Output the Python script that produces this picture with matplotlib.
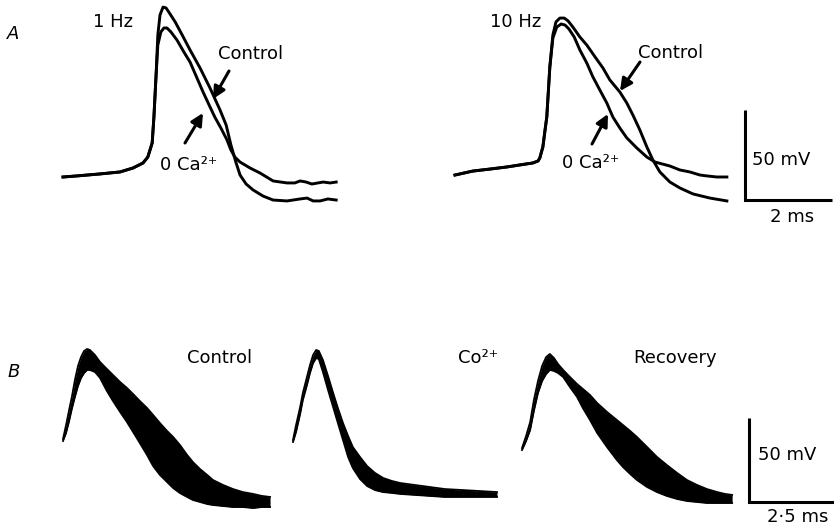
import matplotlib.pyplot as plt

W, H = 834, 527

# ---- panel A: single sweeps (time in ms, membrane potential in mV) ----
a1_ctrl_t = [0, 0.32, 0.85, 1.31, 1.61, 1.84, 1.95, 2.05, 2.09, 2.14,
             2.18, 2.23, 2.30, 2.37, 2.46, 2.58, 2.74, 2.92, 3.15, 3.38,
             3.61, 3.75, 3.86, 3.98, 4.07, 4.21, 4.37, 4.60, 4.83, 5.15,
             5.45, 5.61, 5.75, 5.91, 6.09, 6.28]
a1_ctrl_v = [-70, -69.4, -68.3, -67.2, -65, -62.2, -58.9, -51.1, -36.7, -13.3,
             8.9, 20, 24.4, 23.9, 20.6, 16.1, 8.9, 0.6, -9.4, -20.6,
             -32.8, -41.1, -52.2, -62.2, -68.9, -73.9, -77.2, -80.6, -82.8, -83.3,
             -82.2, -81.7, -83.3, -83.3, -82.2, -82.8]
a1_zca_t = [0, 0.32, 0.85, 1.31, 1.61, 1.84, 1.95, 2.05, 2.09, 2.14,
            2.18, 2.25, 2.32, 2.39, 2.48, 2.62, 2.78, 2.92, 3.08, 3.22,
            3.38, 3.49, 3.63, 3.77, 3.86, 3.95, 4.07, 4.30, 4.53, 4.83,
            5.15, 5.33, 5.45, 5.59, 5.72, 5.86, 5.98, 6.14, 6.28]
a1_zca_v = [-70, -69.4, -68.3, -67.2, -65, -62.2, -58.9, -51.1, -36.7, -13.3,
            3.3, 10.6, 12.8, 12.8, 10.6, 6.1, -0.6, -6.1, -15, -22.8,
            -31.1, -36.7, -42.8, -49.4, -55, -58.9, -61.7, -65, -67.8, -72.2,
            -73.3, -73.3, -72.2, -72.8, -73.9, -73.3, -72.8, -73.3, -72.8]

a2_ctrl_t = [0, 0.41, 0.80, 1.20, 1.49, 1.79, 1.91, 1.95, 2.02, 2.07,
             2.11, 2.18, 2.25, 2.32, 2.41, 2.51, 2.60, 2.71, 2.87, 3.03,
             3.22, 3.40, 3.56, 3.79, 3.95, 4.09, 4.25, 4.41, 4.55, 4.71,
             4.94, 5.17, 5.47, 5.86, 6.25]
a2_ctrl_v = [-68.9, -66.7, -65.6, -64.4, -63.3, -62.2, -61.1, -59.4, -53.3, -43.9,
             -36.7, -8.9, 8.9, 16.1, 18.3, 18.3, 16.7, 13.3, 7.8, 3.3,
             -3.3, -9.4, -16.1, -22.8, -28.9, -35.6, -43.9, -53.3, -60.6, -67.2,
             -72.8, -76.1, -79.4, -81.7, -83.3]
a2_zca_t = [0, 0.41, 0.80, 1.20, 1.49, 1.79, 1.91, 1.95, 2.02, 2.07,
            2.11, 2.18, 2.25, 2.34, 2.44, 2.53, 2.62, 2.74, 2.87, 3.03,
            3.17, 3.33, 3.49, 3.63, 3.79, 3.95, 4.18, 4.41, 4.60, 4.94,
            5.17, 5.40, 5.63, 5.79, 6.02, 6.25]
a2_zca_v = [-68.9, -66.7, -65.6, -64.4, -63.3, -62.2, -61.1, -59.4, -53.3, -43.9,
            -36.7, -8.9, 7.2, 13.3, 15, 14.4, 12.2, 7.8, 0.6, -6.7,
            -14.4, -21.7, -28.9, -36.7, -42.8, -48.3, -53.9, -58.9, -61.7, -63.9,
            -66.1, -67.2, -68.9, -69.4, -70, -70]

# ---- panel B: superimposed sweeps, slowest and fastest edge of each bundle ----
b_ctrl_t = [0, 0.09, 0.18, 0.26, 0.35, 0.44, 0.53, 0.62, 0.71, 0.79,
            0.94, 1.09, 1.29, 1.47, 1.68, 1.88, 2.06, 2.26, 2.47, 2.65,
            2.85, 3.06, 3.24, 3.44, 3.65, 3.82, 4.03, 4.24, 4.41, 4.71,
            5.0, 5.29, 5.59, 5.85, 6.09]
b_ctrl_slow = [-39.4, -31.1, -22.1, -14.4, -4.3, 4.0, 9.4, 13.0, 14.2, 13.6,
               10.6, 6.4, 2.3, -1.3, -5.5, -9.0, -12.6, -16.8, -20.9, -25.1,
               -29.9, -34.6, -38.2, -43.0, -48.9, -53.1, -57.3, -60.8, -63.8, -66.8,
               -69.2, -71.0, -72.1, -73.3, -73.9]
b_ctrl_fast = [-40.6, -35.8, -28.7, -21.5, -14.4, -7.9, -3.1, -0.1, 1.7, 1.7,
               0.5, -3.1, -10.8, -16.8, -23.3, -29.3, -35.2, -41.8, -48.9, -55.5,
               -60.8, -65.0, -68.6, -71.6, -73.9, -75.7, -76.9, -78.1, -78.7, -79.3,
               -79.9, -79.9, -80.5, -79.9, -79.9]

b_co_t = [0, 0.09, 0.21, 0.29, 0.41, 0.50, 0.59, 0.68, 0.76, 0.88,
          1.03, 1.18, 1.32, 1.47, 1.62, 1.76, 1.97, 2.18, 2.41, 2.65,
          2.91, 3.15, 3.59, 4.03, 4.47, 5.0, 5.5, 6.0]
b_co_slow = [-40, -31.1, -20.4, -12.0, -2.5, 4.6, 10.6, 13.6, 13.0, 7.6,
             -1.9, -12.0, -21.0, -29.9, -37.6, -44.2, -50.1, -55.5, -59.6, -62.6,
             -64.4, -65.6, -66.8, -68.0, -69.2, -69.8, -70.4, -71.0]
b_co_fast = [-41.2, -35.2, -24.5, -16.2, -7.3, -0.1, 5.8, 8.8, 8.2, 0.5,
             -10.2, -20.4, -29.9, -40.0, -50.1, -56.7, -63.2, -67.4, -69.8, -71.0,
             -71.5, -72.1, -72.7, -73.3, -73.9, -73.9, -73.9, -73.9]

b_rec_t = [0, 0.12, 0.24, 0.35, 0.47, 0.59, 0.71, 0.82, 0.94, 1.06,
           1.21, 1.41, 1.62, 1.79, 2.0, 2.21, 2.5, 2.79, 2.97, 3.18,
           3.38, 3.68, 3.97, 4.26, 4.56, 4.85, 5.15, 5.44, 5.74, 5.97, 6.18]
b_rec_slow = [-44.8, -37.6, -29.3, -16.2, -4.9, 4.0, 9.4, 11.2, 8.8, 5.2,
              1.7, -2.5, -6.7, -9.6, -13.2, -18.0, -23.3, -28.1, -31.1, -34.6,
              -38.2, -44.2, -50.1, -54.9, -59.6, -63.8, -66.8, -69.2, -71.0, -72.1, -72.7]
b_rec_fast = [-46.0, -40.6, -34.0, -22.7, -12.0, -4.9, -0.7, 1.7, 1.1, -0.1,
              -2.5, -8.5, -14.4, -21.0, -28.1, -35.8, -44.2, -51.9, -56.1, -60.2,
              -63.8, -68.0, -71.0, -73.3, -75.1, -76.3, -76.9, -77.5, -77.5, -77.5, -77.5]

bar_mv = 50
bar_ms_a = 2
bar_ms_b = 2.5

fig = plt.figure(figsize=(W / 100, H / 100), dpi=100)


def trace_axes(left, top, xlim, ylim, px_ms, px_mv):
    # axes placed in pixels so that every panel keeps its own ms / mV scale
    w = (xlim[1] - xlim[0]) * px_ms
    h = (ylim[1] - ylim[0]) * px_mv
    ax = fig.add_axes([left / W, 1 - (top + h) / H, w / W, h / H])
    ax.set_xlim(xlim)
    ax.set_ylim(ylim)
    ax.axis('off')
    return ax


def scale_bar(ax, t0, v0, dt, dv):
    ax.plot([t0, t0, t0 + dt], [v0 + dv, v0, v0], color='k', lw=2.2,
            solid_joinstyle='miter', solid_capstyle='butt', clip_on=False)


lw_a = 2.1
axA1 = trace_axes(63 - 0.2 * 43.5, 0.6, (-0.2, 6.5), (-90, 28), 43.5, 1.8)
axA1.plot(a1_ctrl_t, a1_ctrl_v, color='k', lw=lw_a, solid_joinstyle='round')
axA1.plot(a1_zca_t, a1_zca_v, color='k', lw=lw_a, solid_joinstyle='round')

axA2 = trace_axes(455 - 0.2 * 43.5, 0.6, (-0.2, 8.75), (-90, 28), 43.5, 1.8)
axA2.plot(a2_ctrl_t, a2_ctrl_v, color='k', lw=lw_a, solid_joinstyle='round')
axA2.plot(a2_zca_t, a2_zca_v, color='k', lw=lw_a, solid_joinstyle='round')
scale_bar(axA2, 6.67, -82.8, bar_ms_a, bar_mv)

b_sets = [(63, b_ctrl_t, b_ctrl_slow, b_ctrl_fast, 6.4),
          (293, b_co_t, b_co_slow, b_co_fast, 6.4),
          (522, b_rec_t, b_rec_slow, b_rec_fast, 9.3)]
b_axes = []
for x0, t, slow, fast, xmax in b_sets:
    ax = trace_axes(x0 - 0.3 * 34, 339.2, (-0.3, xmax), (-85, 20), 34, 1.68)
    ax.fill_between(t, fast, slow, color='k', lw=0)
    ax.plot(t, slow, color='k', lw=1.3)
    ax.plot(t, fast, color='k', lw=1.3)
    b_axes.append(ax)
scale_bar(b_axes[2], 6.68, -76.9, bar_ms_b, bar_mv)

# labels and arrows, in pixel coordinates of the whole figure
ov = fig.add_axes([0, 0, 1, 1])
ov.set_xlim(0, W)
ov.set_ylim(H, 0)
ov.axis('off')
ov.patch.set_visible(False)

fs = 13
ov.text(7, 39, 'A', fontsize=fs, style='italic')
ov.text(8, 377, 'B', fontsize=fs, style='italic')

ov.text(93, 27, '1 Hz', fontsize=fs)
ov.text(218, 59, 'Control', fontsize=fs)
ov.text(160, 170, '0 Ca²⁺', fontsize=fs)
ov.text(490, 27, '10 Hz', fontsize=fs)
ov.text(638, 58, 'Control', fontsize=fs)
ov.text(562, 168, '0 Ca²⁺', fontsize=fs)
ov.text(752, 165, '50 mV', fontsize=fs)
ov.text(770, 222, '2 ms', fontsize=fs)

ov.text(187, 363, 'Control', fontsize=fs)
ov.text(458, 363, 'Co²⁺', fontsize=fs)
ov.text(633, 363, 'Recovery', fontsize=fs)
ov.text(758, 460, '50 mV', fontsize=fs)
ov.text(767, 522, '2·5 ms', fontsize=fs)

arrows = [((229, 71), (213, 99)), ((185, 143), (203, 113)),
          ((640, 62), (620, 91)), ((592, 144), (608, 114))]
for tail, tip in arrows:
    ov.annotate('', xy=tip, xytext=tail,
                arrowprops=dict(arrowstyle='-|>', color='k', lw=2.2,
                                mutation_scale=18, shrinkA=0, shrinkB=0))

fig.savefig('out.png', dpi=100)
